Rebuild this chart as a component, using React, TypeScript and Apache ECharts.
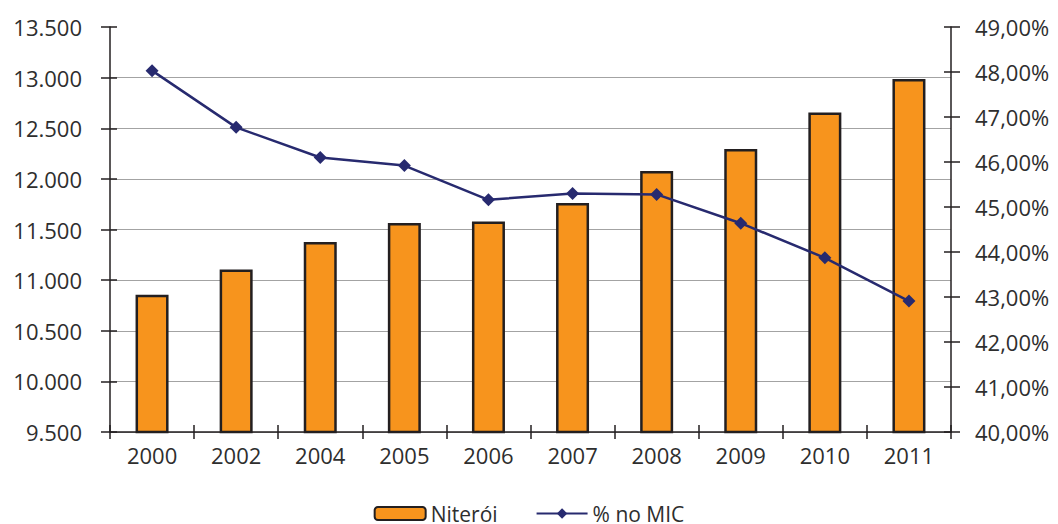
import React, { useEffect, useRef } from "react";
import * as echarts from "echarts";

const years = ["2000", "2002", "2004", "2005", "2006", "2007", "2008", "2009", "2010", "2011"];
const niteroi = [10855, 11105, 11377, 11564, 11579, 11762, 12078, 12295, 12656, 12987];
const pctMIC = [48.03, 46.77, 46.1, 45.92, 45.16, 45.3, 45.28, 44.64, 43.87, 42.91];

const leftMin = 9500;
const leftMax = 13500;
const leftInterval = 500;
const rightMin = 40;
const rightMax = 49;
const rightInterval = 1;

const FONT = "'Open Sans', 'Noto Sans', sans-serif";
const TEXT = "#2e2e2e";
const AXIS = "#231f20";

const fmtLeft = (v: number) => String(v).replace(/\B(?=(\d{3})+(?!\d))/g, ".");
const fmtRight = (v: number) => v.toFixed(2).replace(".", ",") + "%";

export default function App() {
  const ref = useRef<HTMLDivElement>(null);
  useEffect(() => {
    if (!ref.current) return;
    const chart = echarts.init(ref.current, undefined, { renderer: "svg" });
    const tickStyle = { color: AXIS, width: 1.5 };
    chart.setOption({
      animation: false,
      backgroundColor: "#ffffff",
      textStyle: { fontFamily: FONT },
      grid: { left: 110, right: 107, top: 27, bottom: 92, containLabel: false },
      legend: {
        left: "center",
        top: 503,
        padding: 0,
        itemWidth: 51,
        itemHeight: 13,
        itemGap: 38,
        textStyle: { fontSize: 21, color: TEXT, fontFamily: FONT, lineHeight: 20 },
        data: ["Niterói", "% no MIC"],
      },
      xAxis: [
        {
          type: "category",
          data: years,
          position: "bottom",
          axisLine: { show: true, lineStyle: { color: AXIS, width: 1.5 } },
          axisTick: { show: true, inside: false, length: 7, lineStyle: tickStyle },
          axisLabel: { color: TEXT, fontSize: 22, margin: 12, fontFamily: FONT },
          splitLine: { show: false },
        },
        {
          type: "category",
          data: years,
          position: "bottom",
          axisLine: { show: false },
          axisTick: { show: true, inside: true, length: 7, lineStyle: tickStyle },
          axisLabel: { show: false },
          splitLine: { show: false },
        },
      ],
      yAxis: [
        {
          type: "value",
          position: "left",
          min: leftMin,
          max: leftMax,
          interval: leftInterval,
          axisLine: { show: true, lineStyle: { color: AXIS, width: 1.5 } },
          axisTick: { show: true, inside: false, length: 9, lineStyle: tickStyle },
          axisLabel: { color: TEXT, fontSize: 22, margin: 28, formatter: fmtLeft, fontFamily: FONT },
          splitLine: { show: true, showMaxLine: false, lineStyle: { color: "#a3a3a3", width: 1.2 } },
        },
        {
          type: "value",
          position: "right",
          min: rightMin,
          max: rightMax,
          interval: rightInterval,
          axisLine: { show: true, lineStyle: { color: AXIS, width: 1.5 } },
          axisTick: { show: true, inside: false, length: 9, lineStyle: tickStyle },
          axisLabel: { color: TEXT, fontSize: 22, margin: 24, formatter: fmtRight, fontFamily: FONT },
          splitLine: { show: false },
        },
        {
          type: "value",
          position: "left",
          min: leftMin,
          max: leftMax,
          interval: leftInterval,
          axisLine: { show: false },
          axisTick: { show: true, inside: true, length: 7, lineStyle: tickStyle },
          axisLabel: { show: false },
          splitLine: { show: false },
        },
        {
          type: "value",
          position: "right",
          min: rightMin,
          max: rightMax,
          interval: rightInterval,
          axisLine: { show: false },
          axisTick: { show: true, inside: true, length: 7, lineStyle: tickStyle },
          axisLabel: { show: false },
          splitLine: { show: false },
        },
      ],
      series: [
        {
          name: "Niterói",
          type: "bar",
          xAxisIndex: 0,
          yAxisIndex: 0,
          data: niteroi,
          barWidth: 33,
          itemStyle: { color: "#f7941d", borderColor: AXIS, borderWidth: 2.5 },
          z: 2,
        },
        {
          name: "% no MIC",
          type: "line",
          xAxisIndex: 0,
          yAxisIndex: 1,
          data: pctMIC,
          symbol: "diamond",
          symbolSize: 13,
          lineStyle: { color: "#272a6f", width: 2.5 },
          itemStyle: { color: "#272a6f" },
          z: 3,
        },
      ],
    });
    return () => chart.dispose();
  }, []);
  return (
    <div
      ref={ref}
      style={{ position: "fixed", left: 0, top: 0, width: 1058, height: 524 }}
    />
  );
}
